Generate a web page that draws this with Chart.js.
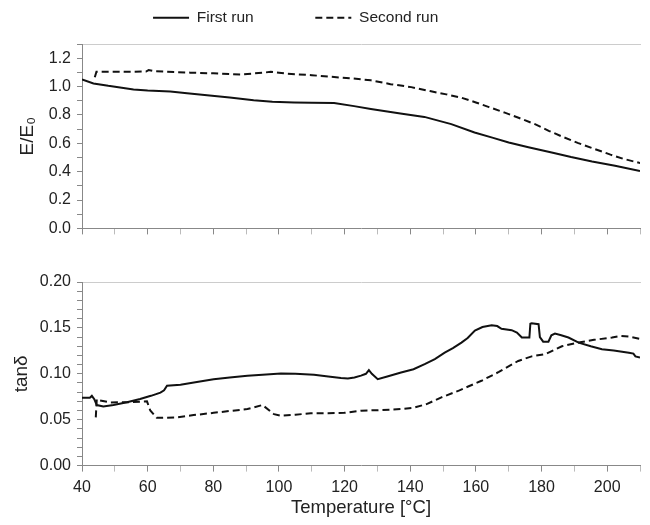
<!DOCTYPE html>
<html>
<head>
<meta charset="utf-8">
<script src="https://cdn.jsdelivr.net/npm/chart.js@4.4.1/dist/chart.umd.min.js"></script>
<style>
  body { margin: 0; width: 650px; height: 525px; overflow: hidden; background: #fff; position: relative; }
  #topChart { position: absolute; left: -40px; top: 0; }
  #bottomChart { position: absolute; left: 0; top: 250px; }
</style>
</head>
<body>
<canvas id="topChart" width="690" height="244"></canvas>
<canvas id="bottomChart" width="650" height="275"></canvas>
<script>
// 第一次 / 第二次测量 E/E0
const firstRunTempE = [40, 43.5, 48, 55.7, 60, 66.9, 72, 78.1, 85, 92.3, 98, 104.6, 110, 116.8, 122.9, 128, 132, 137, 144.3, 152.5, 159.6, 165, 170, 176, 183.1, 189, 195.4, 202.4, 210];
const firstRunE = [1.05, 1.022, 1.005, 0.98, 0.972, 0.965, 0.952, 0.938, 0.922, 0.903, 0.893, 0.888, 0.885, 0.884, 0.862, 0.842, 0.828, 0.81, 0.786, 0.735, 0.676, 0.64, 0.606, 0.572, 0.535, 0.503, 0.472, 0.442, 0.405];

const secondRunTempE = [43.9, 44.4, 50, 55, 59.5, 60.3, 62, 66, 73, 80, 88.3, 95, 97.5, 100, 102.6, 110, 116.8, 122, 128, 134, 140.3, 146, 151, 155.6, 160, 164, 168.8, 173, 178, 182.2, 186, 191, 196.3, 201, 205, 210.5];
const secondRunE = [1.065, 1.104, 1.105, 1.104, 1.106, 1.116, 1.108, 1.104, 1.098, 1.093, 1.085, 1.097, 1.104, 1.098, 1.09, 1.08, 1.067, 1.058, 1.044, 1.017, 0.996, 0.968, 0.945, 0.921, 0.888, 0.855, 0.816, 0.78, 0.735, 0.688, 0.65, 0.603, 0.559, 0.52, 0.49, 0.458];

// tanδ
const firstRunTempTan = [40, 42.4, 43, 43.8, 44.5, 46.5, 49.6, 53.7, 57.7, 61, 63.9, 65, 65.9, 70, 75, 80.1, 85, 90.4, 95, 100.6, 105, 110.7, 115, 118.9, 121, 123, 125, 126.5, 127.4, 128.3, 130.1, 133, 137.2, 141, 144.4, 147.5, 150.5, 153, 155.6, 157.5, 159.7, 162, 164.8, 166.5, 167.8, 170.9, 172.5, 174, 176.3, 176.6, 177, 179.1, 179.5, 180.5, 182.1, 183, 184.1, 186, 188.2, 191.3, 195, 198.4, 202, 206.6, 208, 208.6, 210];
const firstRunTan = [0.074, 0.074, 0.076, 0.072, 0.066, 0.0645, 0.066, 0.069, 0.0725, 0.076, 0.0795, 0.082, 0.087, 0.088, 0.091, 0.094, 0.096, 0.0978, 0.099, 0.1003, 0.1, 0.099, 0.097, 0.0953, 0.0949, 0.096, 0.098, 0.1, 0.104, 0.1, 0.0942, 0.097, 0.1014, 0.105, 0.1105, 0.116, 0.123, 0.128, 0.134, 0.139, 0.147, 0.151, 0.153, 0.152, 0.149, 0.1475, 0.145, 0.1395, 0.1395, 0.1545, 0.155, 0.154, 0.14, 0.135, 0.135, 0.142, 0.1438, 0.142, 0.1395, 0.134, 0.13, 0.1268, 0.1255, 0.123, 0.122, 0.119, 0.1177];

const secondRunTempTan = [44.2, 44.5, 45.5, 48.6, 54, 59.8, 60.8, 62.8, 68.9, 74, 80.1, 85, 90.4, 95, 98.5, 100.6, 105, 109.7, 115, 119.9, 125, 131, 137.2, 141, 145, 149.5, 155, 161.7, 167, 172.9, 177, 181.1, 186.2, 191.3, 196, 201.5, 204, 206.6, 210.5];
const secondRunTan = [0.0525, 0.0725, 0.071, 0.0688, 0.069, 0.070, 0.060, 0.052, 0.0525, 0.055, 0.0575, 0.0595, 0.0616, 0.066, 0.056, 0.0543, 0.0555, 0.0569, 0.057, 0.0575, 0.0598, 0.0605, 0.0616, 0.063, 0.067, 0.0743, 0.082, 0.0924, 0.102, 0.114, 0.119, 0.1214, 0.130, 0.134, 0.137, 0.1395, 0.1413, 0.1405, 0.1377];

const seriesLabels = ['First run', 'Second run'];

Chart.defaults.font.family = "'Liberation Sans', Arial, sans-serif";
Chart.defaults.color = '#222';
Chart.defaults.animation = false;

const axisGray = '#888';

function points(xs, ys) {
    return xs.map((x, i) => ({ x: x, y: ys[i] }));
}

function lineSet(label, xs, ys, dashed) {
    return {
        label: label,
        data: points(xs, ys),
        borderColor: '#111',
        backgroundColor: '#111',
        borderWidth: 2,
        borderDash: dashed ? [7, 4] : [],
        pointRadius: 0,
        tension: 0,
        fill: false
    };
}

// 共用 x 轴
function xAxis(showLabels) {
    return {
        type: 'linear',
        min: 40,
        max: 210,
        ticks: {
            display: showLabels,
            stepSize: 10,
            autoSkip: false,
            maxRotation: 0,
            padding: 6,
            font: { size: 16 },
            callback: v => v % 20 === 0 ? String(v) : ''
        },
        grid: {
            drawOnChartArea: false,
            tickLength: 6,
            tickColor: ctx => ctx.tick && ctx.tick.value % 20 === 0 ? axisGray : '#bbb'
        },
        border: { color: axisGray }
    };
}

function topBorderAxis(len) {
    return {
        type: 'linear',
        position: 'top',
        min: 40,
        max: 210,
        ticks: { display: false },
        grid: { drawOnChartArea: false, drawTicks: len > 0, tickLength: len, tickColor: 'rgba(0,0,0,0)' },
        border: { color: '#ccc' }
    };
}

// 上图：E/E0
new Chart(document.getElementById('topChart'), {
    type: 'line',
    data: {
        datasets: [
            lineSet(seriesLabels[0], firstRunTempE, firstRunE, false),
            lineSet(seriesLabels[1], secondRunTempE, secondRunE, true)
        ]
    },
    options: {
        responsive: false,
        layout: { padding: { left: 0, right: 10, top: 0, bottom: 2 } },
        plugins: {
            tooltip: { enabled: false },
            legend: {
                position: 'top',
                labels: {
                    usePointStyle: true,
                    pointStyle: 'line',
                    pointStyleWidth: 36,
                    padding: 10,
                    color: '#222',
                    font: { size: 15.5 },
                    generateLabels: chart => {
                        const items = Chart.defaults.plugins.legend.labels.generateLabels(chart);
                        items.forEach((item, i) => {
                            item.lineDash = chart.data.datasets[i].borderDash;
                            item.lineWidth = 2;
                        });
                        items[0].text += '            ';
                        items[1].text += '  ';
                        return items;
                    }
                }
            }
        },
        scales: {
            x: xAxis(false),
            x2: topBorderAxis(8.5),
            y: {
                min: 0,
                max: 1.3,
                ticks: {
                    stepSize: 0.1,
                    autoSkip: false,
                    padding: 6,
                    font: { size: 16 },
                    callback: v => Math.round(v * 10) % 2 === 0 ? v.toFixed(1) : ''
                },
                grid: { drawOnChartArea: false, tickLength: 5, tickColor: axisGray },
                border: { color: axisGray },
                title: { display: true, text: 'E/E₀', font: { size: 19 }, padding: { top: 56, bottom: 0 } },
                afterFit: s => { s.width = 122; }
            }
        }
    }
});

// 下图：tanδ
new Chart(document.getElementById('bottomChart'), {
    type: 'line',
    data: {
        datasets: [
            lineSet(seriesLabels[0], firstRunTempTan, firstRunTan, false),
            lineSet(seriesLabels[1], secondRunTempTan, secondRunTan, true)
        ]
    },
    options: {
        responsive: false,
        layout: { padding: { left: 0, right: 10, top: 32, bottom: 6 } },
        plugins: { legend: { display: false }, tooltip: { enabled: false } },
        scales: {
            x: Object.assign(xAxis(true), {
                title: { display: true, text: 'Temperature [°C]', font: { size: 18.5 }, padding: { top: -6, bottom: 0 } }
            }),
            x2: topBorderAxis(0),
            y: {
                min: 0,
                max: 0.2,
                ticks: {
                    stepSize: 0.01,
                    autoSkip: false,
                    padding: 6,
                    font: { size: 16 },
                    callback: v => Math.round(v * 100) % 5 === 0 ? v.toFixed(2) : ''
                },
                grid: { drawOnChartArea: false, tickLength: 5, tickColor: axisGray },
                border: { color: axisGray },
                title: { display: true, text: 'tanδ', font: { size: 19 }, padding: { top: 10, bottom: 0 } },
                afterFit: s => { s.width = 82; }
            }
        }
    }
});
</script>
</body>
</html>
